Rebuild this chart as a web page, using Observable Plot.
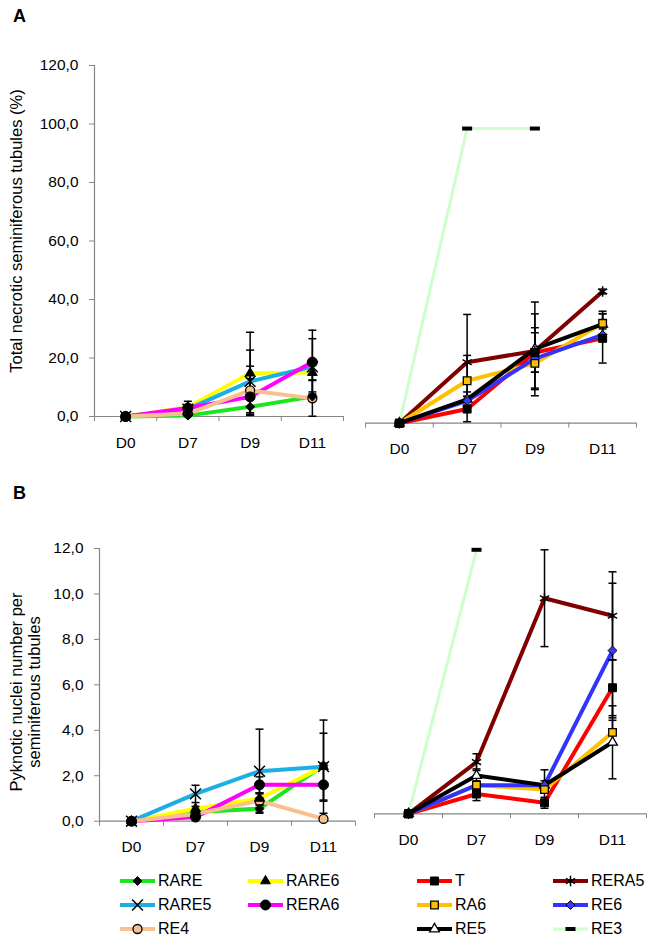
<!DOCTYPE html>
<html><head><meta charset="utf-8">
<script src="https://cdn.jsdelivr.net/npm/d3@7"></script>
<script src="https://cdn.jsdelivr.net/npm/@observablehq/plot@0.6"></script>
<style>
body{margin:0;background:#fff;font-family:"Liberation Sans",Arial,sans-serif;}
#root{position:relative;width:653px;height:942px;overflow:hidden;}
.abs{position:absolute;}
.ytitle{position:absolute;white-space:nowrap;font-size:16.5px;transform:translate(-50%,-50%) rotate(-90deg);color:#000;}
.letter{position:absolute;font-weight:bold;font-size:18px;line-height:18px;}
.leg{position:absolute;display:flex;align-items:center;font-size:16px;height:16px;transform:translateY(-50%);}
.leg svg{display:block;margin-right:3px;}
</style></head><body><div id="root"></div>
<script>
// ---------- data ----------
const days = ["D0","D7","D9","D11"];
const leftSeries = ["RARE","RARE6","RARE5","RERA6","RE4"];
const rightSeries = ["T","RERA5","RA6","RE6","RE5","RE3"];

// Panel A: total necrotic seminiferous tubules (%)
const necRARE      = [0, 0.3, 3.3, 6.8];
const necRARE_err  = [0, 0.2, 2.9, 1.6];
const necRARE6     = [0, 3.2, 14.8, 15.0];
const necRARE6_err = [0, 2.0, 14.0, 2.5];
const necRARE5     = [0, 2.5, 12.0, 17.0];
const necRARE5_err = [0, 0.8, 10.7, 9.6];
const necRERA6     = [0, 2.9, 6.7, 18.6];
const necRERA6_err = [0, 0.6, 6.3, 10.9];
const necRE4       = [0, 1.0, 8.9, 6.2];
const necRE4_err   = [0, 0.5, 8.3, 6.1];
const necT         = [0, 4.8, 24.0, 28.8];
const necT_err     = [0, 4.3, 6.7, 8.4];
const necRERA5     = [0, 20.7, 24.5, 44.7];
const necRERA5_err = [0, 16.2, 12.6, 0.8];
const necRA6       = [0, 14.4, 20.3, 33.9];
const necRA6_err   = [0, 8.6, 3.0, 4.1];
const necRE6       = [0, 7.6, 21.9, 30.0];
const necRE6_err   = [0, 1.5, 10.5, 2.0];
const necRE5       = [0, 8.1, 25.2, 33.6];
const necRE5_err   = [0, 2.5, 15.9, 3.5];
const necRE3       = [0, 100, 100, null];
const necRE3_err   = [0, 0, 0, 0];

// Panel B: pyknotic nuclei number per seminiferous tubules
const pykRARE      = [0, 0.4, 0.55, 2.45];
const pykRARE_err  = [0, 0.08, 0.15, 0.1];
const pykRARE6     = [0, 0.55, 1.0, 2.4];
const pykRARE6_err = [0, 0.1, 0.25, 1.47];
const pykRARE5     = [0, 1.2, 2.2, 2.4];
const pykRARE5_err = [0, 0.38, 1.85, 2.05];
const pykRERA6     = [0, 0.18, 1.6, 1.6];
const pykRERA6_err = [0, 0.05, 0.35, 0.72];
const pykRE4       = [0, 0.32, 0.9, 0.1];
const pykRE4_err   = [0, 0.05, 0.3, 0.05];
const pykT         = [0, 0.9, 0.5, 5.73];
const pykT_err     = [0, 0.3, 0.25, 1.27];
const pykRERA5     = [0, 2.35, 9.8, 9.0];
const pykRERA5_err = [0, 0.38, 2.2, 2.0];
const pykRA6       = [0, 1.3, 1.1, 3.7];
const pykRA6_err   = [0, 0.15, 0.15, 0.55];
const pykRE6       = [0, 1.3, 1.3, 7.42];
const pykRE6_err   = [0, 0.2, 0.2, 3.06];
const pykRE5       = [0, 1.74, 1.3, 3.25];
const pykRE5_err   = [0, 0.3, 0.7, 1.66];
const pykRE3       = [0, 12, null, null];
const pykRE3_err   = [0, 0, 0, 0];

const necTicks = [0, 20, 40, 60, 80, 100, 120];
const pykTicks = [0, 2, 4, 6, 8, 10, 12];

// ---------- styles ----------
const cap = {draw(ctx, size){ const w = Math.sqrt(size/Math.PI); ctx.moveTo(-w,0); ctx.lineTo(w,0); }};
const dash = {draw(ctx, size){ const w = Math.sqrt(size/Math.PI); ctx.rect(-w, -w*0.4, 2*w, w*0.8); }};
const S = {
  RARE:  {color:"#1ee61e", symbol:"diamond2", fill:"black", stroke:"black", r:4, sw:1},
  RARE6: {color:"#ffff00", symbol:"triangle", fill:"black", stroke:"black", r:3.6, sw:1},
  RARE5: {color:"#1eaee6", symbol:"times", fill:"none", stroke:"black", r:5, sw:1.5},
  RERA6: {color:"#ff00ff", symbol:"circle", fill:"black", stroke:"black", r:5, sw:1},
  RE4:   {color:"#f9c08f", symbol:"circle", fill:"#f9c08f", stroke:"black", r:4.5, sw:1.3},
  T:     {color:"#ff0000", symbol:"square", fill:"black", stroke:"black", r:4.5, sw:1},
  RERA5: {color:"#800000", symbol:"asterisk", fill:"none", stroke:"black", r:5, sw:1.5},
  RA6:   {color:"#ffc000", symbol:"square", fill:"#ffc000", stroke:"black", r:4.3, sw:1.3},
  RE6:   {color:"#3333ff", symbol:"diamond2", fill:"#3b3bff", stroke:"black", r:4, sw:1},
  RE5:   {color:"#000000", symbol:"triangle", fill:"white", stroke:"black", r:3.6, sw:1.3},
  RE3:   {color:"#ccffcc", symbol:dash, fill:"black", stroke:"none", r:5, sw:0, lw:3}
};
const AXIS = "#868686";
const FONT = '"Liberation Sans", Arial, sans-serif';
const fmt = d => d.toFixed(1).replace(".", ",");

const DATA = {
  nec: {RARE:[necRARE,necRARE_err], RARE6:[necRARE6,necRARE6_err], RARE5:[necRARE5,necRARE5_err],
        RERA6:[necRERA6,necRERA6_err], RE4:[necRE4,necRE4_err], T:[necT,necT_err],
        RERA5:[necRERA5,necRERA5_err], RA6:[necRA6,necRA6_err], RE6:[necRE6,necRE6_err],
        RE5:[necRE5,necRE5_err], RE3:[necRE3,necRE3_err]},
  pyk: {RARE:[pykRARE,pykRARE_err], RARE6:[pykRARE6,pykRARE6_err], RARE5:[pykRARE5,pykRARE5_err],
        RERA6:[pykRERA6,pykRERA6_err], RE4:[pykRE4,pykRE4_err], T:[pykT,pykT_err],
        RERA5:[pykRERA5,pykRERA5_err], RA6:[pykRA6,pykRA6_err], RE6:[pykRE6,pykRE6_err],
        RE5:[pykRE5,pykRE5_err], RE3:[pykRE3,pykRE3_err]}
};
function rowsOf(set, name){
  const [vals, errs] = DATA[set][name];
  return vals.map((v,i) => ({i, v, e: errs[i], name})).filter(d => d.v != null);
}

const root = document.getElementById("root");

function panel(cfg){
  const mL = cfg.x0 - cfg.left, mR = cfg.mR ?? 8, mT = cfg.yTop - cfg.top, mB = 45;
  const width = cfg.x1 - cfg.left + mR, height = cfg.yBottom - cfg.top + mB;
  const marks = [];
  if (cfg.yAxis) {
    marks.push(Plot.ruleX([-0.5], {stroke: AXIS, strokeWidth: 1.2}));
    marks.push(Plot.axisY({ticks: cfg.ticks, tickFormat: fmt, tickSize: 5, tickPadding: 11, stroke: AXIS, fill: "black", label: null}));
  }
  marks.push(Plot.ruleY([0], {stroke: AXIS, strokeWidth: 1.2}));
  marks.push(Plot.axisX({ticks: [-0.5, 0.5, 1.5, 2.5, 3.5], tickFormat: () => "", tickSize: 5, stroke: AXIS, label: null}));
  marks.push(Plot.axisX({ticks: [0,1,2,3], tickFormat: i => days[i], tickSize: 0, tickPadding: 20, fill: "black", label: null}));
  for (const name of cfg.series) {
    marks.push(Plot.line(rowsOf(cfg.set, name), {x: "i", y: "v", stroke: S[name].color, strokeWidth: S[name].lw ?? 4, strokeLinejoin: "round", strokeLinecap: "round"}));
  }
  for (const name of cfg.series) {
    const rows = rowsOf(cfg.set, name).filter(d => d.e > 0);
    marks.push(Plot.ruleX(rows, {x: "i", y1: d => Math.max(0, d.v - d.e), y2: d => d.v + d.e, stroke: "black", strokeWidth: 1.5}));
    marks.push(Plot.dot(rows, {x: "i", y: d => d.v + d.e, symbol: cap, r: 4, fill: "none", stroke: "black", strokeWidth: 1.5}));
    marks.push(Plot.dot(rows, {x: "i", y: d => Math.max(0, d.v - d.e), symbol: cap, r: 4, fill: "none", stroke: "black", strokeWidth: 1.5}));
  }
  // markers: draw in reverse order so the first series sits on top (as in the original)
  for (const name of cfg.series.slice().reverse()) {
    const s = S[name];
    marks.push(Plot.dot(rowsOf(cfg.set, name), {x: "i", y: "v", symbol: s.symbol, r: s.r, fill: s.fill, stroke: s.stroke, strokeWidth: s.sw}));
  }
  const svg = Plot.plot({
    width, height, marginLeft: mL, marginRight: mR, marginTop: mT, marginBottom: mB,
    x: {type: "linear", domain: [-0.5, 3.5]},
    y: {type: "linear", domain: [0, cfg.ymax], axis: cfg.yAxis ? undefined : null},
    style: {fontFamily: FONT, fontSize: "15.5px", background: "transparent", overflow: "visible", color: "black"},
    marks
  });
  const div = document.createElement("div");
  div.className = "abs";
  div.style.left = cfg.left + "px"; div.style.top = cfg.top + "px";
  div.appendChild(svg);
  root.appendChild(div);
}

panel({set: "nec", series: leftSeries, left: 0, top: 0, x0: 94, x1: 343, yTop: 65, yBottom: 416, ymax: 120, ticks: necTicks, yAxis: true});
panel({set: "nec", series: rightSeries, left: 345, top: 0, x0: 365, x1: 636, yTop: 69.1, yBottom: 422.7, ymax: 120, yAxis: false});
panel({set: "pyk", series: leftSeries, left: 0, top: 470, x0: 99, x1: 355, yTop: 548, yBottom: 820.7, ymax: 12, ticks: pykTicks, yAxis: true});
panel({set: "pyk", series: rightSeries, left: 357, top: 470, x0: 374, x1: 646, yTop: 549.3, yBottom: 813.3, ymax: 12, yAxis: false, mR: 7});

// ---------- text ----------
function addDiv(cls, text, css){
  const d = document.createElement("div");
  d.className = cls; d.textContent = text;
  Object.assign(d.style, css);
  root.appendChild(d);
}
addDiv("letter", "A", {left: "13px", top: "7px"});
addDiv("letter", "B", {left: "13px", top: "484px"});
addDiv("ytitle", "Total necrotic seminiferous tubules (%)", {left: "16px", top: "231px"});
addDiv("ytitle", "Pyknotic nuclei number per", {left: "16px", top: "692px"});
addDiv("ytitle", "seminiferous tubules", {left: "34px", top: "692px"});

// ---------- legend ----------
const symMap = {diamond2: d3.symbolDiamond2, triangle: d3.symbolTriangle, times: d3.symbolTimes,
  circle: d3.symbolCircle, square: d3.symbolSquare, asterisk: d3.symbolAsterisk};
const legendCols = [
  {x: 120, items: ["RARE","RARE5","RE4"]},
  {x: 248, items: ["RARE6","RERA6"]},
  {x: 417, items: ["T","RA6","RE5"]},
  {x: 553, items: ["RERA5","RE6","RE3"]}
];
const legendRows = [881, 905, 929];
for (const col of legendCols) {
  col.items.forEach((name, k) => {
    const s = S[name];
    const item = document.createElement("div");
    item.className = "leg";
    item.style.left = col.x + "px"; item.style.top = legendRows[k] + "px";
    const svg = d3.create("svg").attr("width", 35).attr("height", 16);
    svg.append("line").attr("x1", 0).attr("x2", 35).attr("y1", 8).attr("y2", 8)
      .attr("stroke", s.color).attr("stroke-width", s.lw ?? 4);
    const type = typeof s.symbol === "string" ? symMap[s.symbol] : s.symbol;
    svg.append("path").attr("transform", "translate(17.5,8)")
      .attr("d", d3.symbol().type(type).size(Math.PI * s.r * s.r)())
      .attr("fill", s.fill).attr("stroke", s.stroke).attr("stroke-width", s.sw);
    item.appendChild(svg.node());
    const t = document.createElement("span"); t.textContent = name;
    item.appendChild(t);
    root.appendChild(item);
  });
}
</script></body></html>
